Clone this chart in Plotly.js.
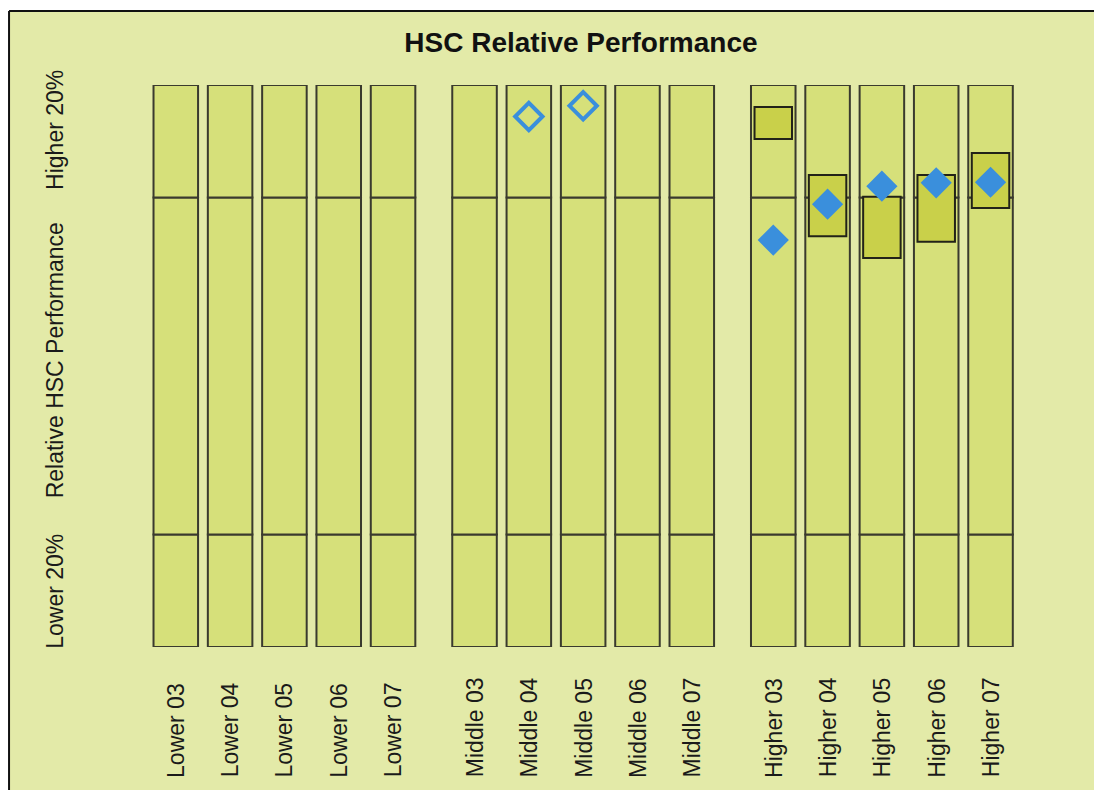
<!DOCTYPE html>
<html>
<head>
<meta charset="utf-8">
<script src="https://cdn.plot.ly/plotly-3.0.1.min.js"></script>
<style>
  html, body { margin: 0; padding: 0; background: #ffffff; }
  #chart { width: 1094px; height: 790px; }
</style>
</head>
<body>
<div id="chart"></div>
<script>
// ---- data ----
var groups = ['Lower', 'Middle', 'Higher'];
var years = ['03', '04', '05', '06', '07'];
var bandNames = ['Lower 20%', 'Relative HSC Performance', 'Higher 20%'];
var bandSizes = [20, 60, 20];

var filledCats = ['Higher 03', 'Higher 04', 'Higher 05', 'Higher 06', 'Higher 07'];
var filledVals = [72.4, 78.8, 82.0, 82.6, 82.7];

var hollowCats = ['Middle 04', 'Middle 05'];
var hollowVals = [94.4, 96.3];

var boxCats = ['Higher 03', 'Higher 04', 'Higher 05', 'Higher 06', 'Higher 07'];
var boxLow  = [90.4, 73.1, 69.2, 72.1, 78.1];
var boxHigh = [96.1, 84.0, 80.1, 84.0, 87.9];

// ---- build categories and positions ----
var GROUP_GAP = 5.5;
var categories = [];
var posOf = {};
groups.forEach(function (g, gi) {
  years.forEach(function (y, yi) {
    var name = g + ' ' + y;
    categories.push(name);
    posOf[name] = gi * GROUP_GAP + yi;
  });
});
var xs = categories.map(function (c) { return posOf[c]; });

var BG = '#e3eaa8';
var BAR = '#d6e07a';
var BOX = '#c9d04a';
var EDGE = '#3a3a2e';
var BLUE = '#3a8fdc';
var FONT = 'Liberation Sans, Arial, sans-serif';

var traces = [];
var base = 0;
bandSizes.forEach(function (s, bi) {
  traces.push({
    type: 'bar',
    name: bandNames[bi],
    x: xs,
    y: xs.map(function () { return s; }),
    base: xs.map(function () { return base; }),
    width: 0.82,
    marker: { color: BAR, line: { color: EDGE, width: 2 } },
    hoverinfo: 'skip',
    showlegend: false
  });
  base += s;
});

traces.push({
  type: 'bar',
  x: boxCats.map(function (c) { return posOf[c]; }),
  y: boxHigh.map(function (h, i) { return h - boxLow[i]; }),
  base: boxLow,
  width: 0.69,
  marker: { color: BOX, line: { color: '#222218', width: 2 } },
  hoverinfo: 'skip',
  showlegend: false
});

traces.push({
  type: 'scatter',
  mode: 'markers',
  x: filledCats.map(function (c) { return posOf[c]; }),
  y: filledVals,
  marker: { symbol: 'diamond', size: 24, color: BLUE, line: { width: 0 } },
  hoverinfo: 'skip',
  showlegend: false
});

traces.push({
  type: 'scatter',
  mode: 'markers',
  x: hollowCats.map(function (c) { return posOf[c]; }),
  y: hollowVals,
  marker: { symbol: 'diamond-open', size: 21, color: BLUE, line: { width: 4, color: BLUE } },
  hoverinfo: 'skip',
  showlegend: false
});

// ---- annotations ----
var annotations = [];
var bandCenters = [10, 51, 92];
bandNames.forEach(function (n, i) {
  annotations.push({
    text: n, xref: 'paper', yref: 'y', x: 0.0145, y: bandCenters[i],
    textangle: -90, showarrow: false, xanchor: 'center', yanchor: 'middle',
    font: { family: FONT, size: 23, color: '#1a1a1a' }
  });
});
categories.forEach(function (c) {
  annotations.push({
    text: c, xref: 'x', yref: 'paper', x: posOf[c], y: -0.236,
    textangle: -90, showarrow: false, xanchor: 'center', yanchor: 'bottom',
    font: { family: FONT, size: 23, color: '#1a1a1a' }
  });
});

var layout = {
  width: 1094, height: 790,
  margin: { l: 40, r: 22, t: 85, b: 143, pad: 0 },
  paper_bgcolor: '#ffffff',
  plot_bgcolor: 'rgba(0,0,0,0)',
  barmode: 'overlay',
  title: {
    text: '<b>HSC Relative Performance</b>',
    xref: 'container', yref: 'container',
    x: 0.531, y: 0.947, xanchor: 'center', yanchor: 'middle',
    font: { family: FONT, size: 28, color: '#111111' }
  },
  xaxis: {
    range: [-2.5, 16.5], showgrid: false, zeroline: false,
    showticklabels: false, ticks: '', showline: false, fixedrange: true
  },
  yaxis: {
    range: [0, 100], showgrid: false, zeroline: false,
    showticklabels: false, ticks: '', showline: false, fixedrange: true
  },
  shapes: [
    {
      type: 'rect', xref: 'paper', yref: 'paper', layer: 'below',
      x0: -0.030, x1: 1.2, y0: -0.6, y1: 1.1317,
      fillcolor: BG, line: { width: 0 }
    },
    {
      type: 'line', xref: 'paper', yref: 'paper', layer: 'below',
      x0: -0.030, x1: 1.2, y0: 1.1317, y1: 1.1317,
      line: { color: '#111111', width: 2 }
    },
    {
      type: 'line', xref: 'paper', yref: 'paper', layer: 'below',
      x0: -0.030, x1: -0.030, y0: -0.6, y1: 1.1317,
      line: { color: '#111111', width: 2 }
    }
  ],
  annotations: annotations,
  showlegend: false
};

Plotly.newPlot('chart', traces, layout, { displayModeBar: false, staticPlot: true });
</script>
</body>
</html>
